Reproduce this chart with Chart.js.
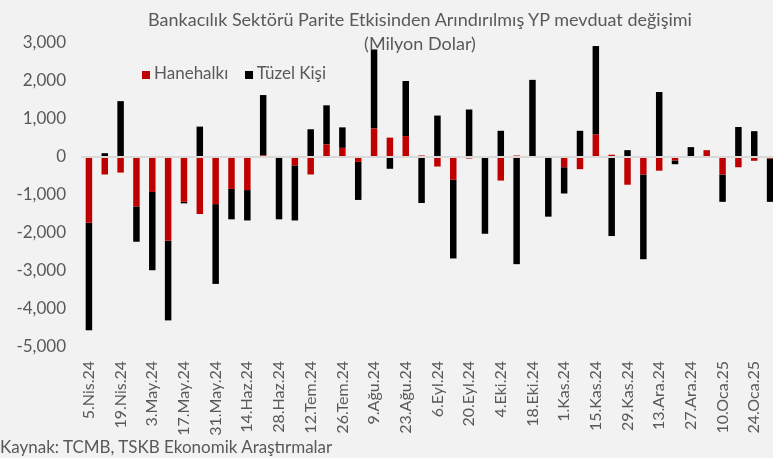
<!DOCTYPE html>
<html>
<head>
<meta charset="utf-8">
<script src="https://cdn.jsdelivr.net/npm/chart.js@4"></script>
<style>
  body { margin: 0; background: #f2f2f2; overflow: hidden; font-family: Lato, "Noto Sans", sans-serif; color: #595959; }
  #wrap { position: relative; width: 773px; height: 458px; overflow: hidden; }
  #chart { position: absolute; left: 0; top: 0; }
  .title { position: absolute; left: 0; width: 840px; text-align: center; font-size: 18px; }
  #legend { position: absolute; left: 142px; top: 62px; font-size: 17px; }
  #legend span.box { display: inline-block; width: 8px; height: 8px; margin-right: 4px; }
  #source { position: absolute; left: 0; top: 436px; font-size: 17px; }
</style>
</head>
<body>
<div id="wrap">
  <canvas id="chart" width="778" height="458"></canvas>
  <div class="title" style="top:8px">Bankacılık Sektörü Parite Etkisinden Arındırılmış YP mevduat değişimi</div>
  <div class="title" style="top:32px">(Milyon Dolar)</div>
  <div id="legend">
    <span class="box" style="background:#c00000"></span>Hanehalkı
    <span class="box" style="background:#000000;margin-left:12px"></span>Tüzel Kişi
  </div>
  <div id="source">Kaynak: TCMB, TSKB Ekonomik Araştırmalar</div>
</div>
<script>
// Weekly dates (only every second one is shown on the axis)
const weeks = [
  "5.Nis.24", "12.Nis.24", "19.Nis.24", "26.Nis.24", "3.May.24", "10.May.24", "17.May.24", "24.May.24",
  "31.May.24", "7.Haz.24", "14.Haz.24", "21.Haz.24", "28.Haz.24", "5.Tem.24", "12.Tem.24", "19.Tem.24",
  "26.Tem.24", "2.Ağu.24", "9.Ağu.24", "16.Ağu.24", "23.Ağu.24", "30.Ağu.24", "6.Eyl.24", "13.Eyl.24",
  "20.Eyl.24", "27.Eyl.24", "4.Eki.24", "11.Eki.24", "18.Eki.24", "25.Eki.24", "1.Kas.24", "8.Kas.24",
  "15.Kas.24", "22.Kas.24", "29.Kas.24", "6.Ara.24", "13.Ara.24", "20.Ara.24", "27.Ara.24", "3.Oca.25",
  "10.Oca.25", "17.Oca.25", "24.Oca.25", "31.Oca.25"
];

// Household FX deposit change (million USD)
const hanehalki = [
  -1730, -460, -410, -1300, -920, -2200, -1180, -1500,
  -1240, -840, -870, 40, 0, -220, -460, 330,
  240, -130, 750, 510, 550, 40, -250, -600,
  -40, 0, -620, 40, 0, 0, -270, -320,
  590, 60, -730, -460, -360, -90, 0, 180,
  -460, -270, -100, -40
];

// Corporate FX deposit change (million USD)
const tuzelKisi = [
  -2830, 100, 1470, -930, -2060, -2100, -40, 800,
  -2100, -800, -800, 1590, -1640, -1450, 730, 1030,
  540, -1000, 2080, -310, 1450, -1210, 1090, -2070,
  1250, -2020, 690, -2820, 2030, -1570, -690, 690,
  2330, -2080, 180, -2230, 1710, -100, 260, 0,
  -720, 790, 680, -1140
];

const yMin = -5000;
const yMax = 3000;

let ctx = document.getElementById("chart").getContext("2d");
let chart = new Chart(ctx, {
  type: "bar",
  data: {
    labels: weeks,
    datasets: [
      { label: "Hanehalkı", data: hanehalki, backgroundColor: "#c00000" },
      { label: "Tüzel Kişi", data: tuzelKisi, backgroundColor: "#000000" },
    ],
  },
  options: {
    responsive: false,
    animation: false,
    layout: { padding: { top: 43, left: 0, right: 0, bottom: 0 } },
    datasets: { bar: { categoryPercentage: 1, barPercentage: 0.41 } },
    plugins: {
      legend: { display: false },
      title: { display: false },
      tooltip: { enabled: false },
    },
    scales: {
      x: {
        stacked: true,
        grid: { display: false },
        border: { display: false },
        ticks: {
          autoSkip: false,
          minRotation: 90,
          maxRotation: 90,
          padding: 6,
          color: "#595959",
          font: { family: "Lato", size: 16 },
          callback: function (value, index) {
            return index % 2 === 0 ? this.getLabelForValue(value) : "";
          },
        },
        afterFit: function (scale) {
          scale.height = 111;
          scale.paddingLeft = 0;
          scale.paddingRight = 0;
        },
      },
      y: {
        stacked: true,
        min: yMin,
        max: yMax,
        z: 1,
        border: { display: false },
        grid: {
          drawTicks: false,
          lineWidth: 2,
          color: (c) => (c.tick && c.tick.value === 0 ? "#d9d9d9" : "transparent"),
        },
        ticks: {
          stepSize: 1000,
          padding: 15,
          color: "#595959",
          font: { family: "Lato", size: 17 },
          callback: (v) => v.toLocaleString("en-US"),
        },
        afterFit: function (scale) {
          scale.width = 81;
        },
      },
    },
  },
});
</script>
</body>
</html>
